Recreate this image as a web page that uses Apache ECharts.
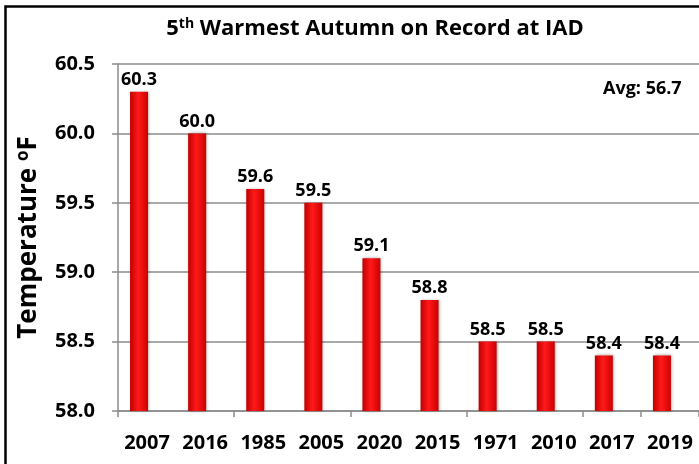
<!DOCTYPE html>
<html>
<head>
<meta charset="utf-8">
<script src="https://cdn.jsdelivr.net/npm/echarts@6/dist/echarts.min.js"></script>
<style>
html,body{margin:0;padding:0;background:#fff;}
#c{width:699px;height:464px;}
</style>
</head>
<body>
<div id="c"></div>
<script>
var categories = ['2007','2016','1985','2005','2020','2015','1971','2010','2017','2019'];
var temps = [60.3, 60.0, 59.6, 59.5, 59.1, 58.8, 58.5, 58.5, 58.4, 58.4];
var yTicks = [58.0, 58.5, 59.0, 59.5, 60.0, 60.5];
var avgText = 'Avg: 56.7';

var FONT = 'Open Sans';
var chart = echarts.init(document.getElementById('c'));
chart.setOption({
  animation: false,
  backgroundColor: '#fff',
  title: {
    text: '5{sup|th} Warmest Autumn on Record at IAD',
    left: 370, top: 12, textAlign: 'center',
    textStyle: {
      fontFamily: FONT, fontWeight: 'bold', fontSize: 22, color: '#000',
      rich: { sup: { fontFamily: FONT, fontWeight: 'bold', fontSize: 14, verticalAlign: 'top', padding: [0,0,9,0] } }
    }
  },
  grid: { left: 118, right: -4, top: 64, bottom: 53, containLabel: false },
  xAxis: {
    type: 'category',
    data: categories,
    axisLine: { show: true, lineStyle: { color: '#8c8c8c', width: 1.5 } },
    axisTick: { show: true, interval: 1, length: 6, lineStyle: { color: '#8c8c8c', width: 1.5 } },
    axisLabel: { interval: 0, margin: 22, fontFamily: FONT, fontWeight: 'bold', fontSize: 20, color: '#000' }
  },
  yAxis: {
    type: 'value',
    min: yTicks[0], max: yTicks[yTicks.length-1], interval: 0.5,
    name: 'Temperature {sup|o}F',
    nameLocation: 'middle', nameRotate: 90, nameGap: 75,
    nameTextStyle: {
      fontFamily: FONT, fontWeight: 'bold', fontSize: 26, color: '#000',
      rich: { sup: { fontFamily: FONT, fontWeight: 'bold', fontSize: 17, verticalAlign: 'top', padding: [0,0,11,0] } }
    },
    axisLine: { show: true, lineStyle: { color: '#8c8c8c', width: 1.5 } },
    axisTick: { show: true, inside: false, length: 6, lineStyle: { color: '#8c8c8c', width: 1.5 } },
    splitLine: { show: true, lineStyle: { color: '#8c8c8c', width: 1.5 } },
    axisLabel: { margin: 23, fontFamily: FONT, fontWeight: 'bold', fontSize: 20, color: '#000',
      formatter: function(v){ return v.toFixed(1); } }
  },
  series: [{
    type: 'bar',
    data: temps,
    barWidth: 18,
    barGap: '-11%',
    itemStyle: {
      color: new echarts.graphic.LinearGradient(0,0,1,0,[
        {offset:0, color:'#c00000'},
        {offset:0.45, color:'#ff1a1a'},
        {offset:1, color:'#cc0000'}
      ]),
      shadowColor: 'rgba(0,0,0,0.35)', shadowBlur: 3, shadowOffsetX: 1, shadowOffsetY: 0
    },
    label: {
      show: true, position: 'top', distance: 3,
      fontFamily: FONT, fontWeight: 'bold', fontSize: 18, color: '#000',
      formatter: function(p){ return p.value.toFixed(1); }
    }
  }, {
    type: 'bar',
    data: [],
    barWidth: 18,
    barGap: '-11%'
  }],
  graphic: [
    { type: 'rect', shape: { x: 5.5, y: 6.5, width: 720, height: 480 }, style: { fill: 'none', stroke: '#000', lineWidth: 2.5 }, silent: true },
    { type: 'text', left: 603, top: 80, style: { text: avgText, fontFamily: FONT, fontWeight: 'bold', fontSize: 18, fill: '#000' } }
  ]
});
</script>
</body>
</html>
